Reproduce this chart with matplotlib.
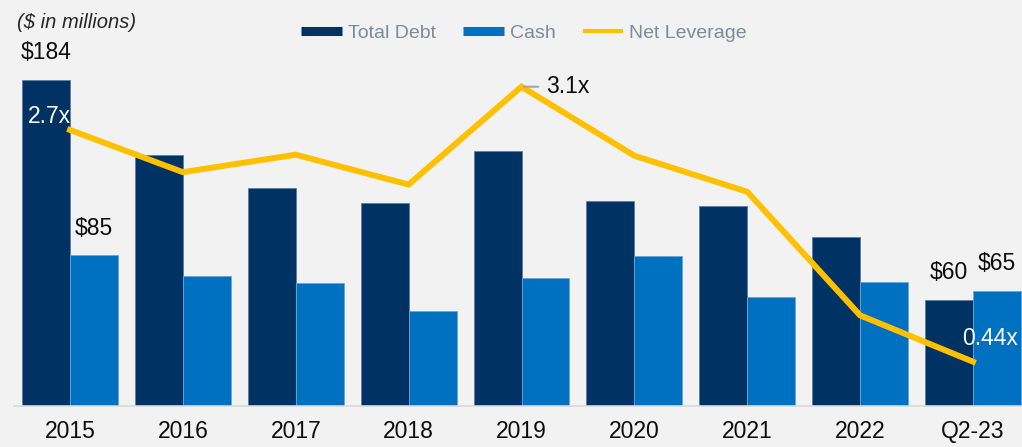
import matplotlib
matplotlib.use("Agg")
import matplotlib.pyplot as plt
from matplotlib.lines import Line2D
import numpy as np

plt.rcParams['font.family'] = ['Liberation Sans', 'DejaVu Sans']

categories = ["2015", "2016", "2017", "2018", "2019", "2020", "2021", "2022", "Q2-23"]
total_debt = [184, 141.3, 122.7, 114.3, 143.9, 115.6, 112.6, 95.1, 60]
cash = [85, 73.1, 69.2, 53.7, 72.2, 84.7, 61.6, 69.7, 65]
net_leverage = [2.68, 2.27, 2.44, 2.15, 3.1, 2.43, 2.08, 0.88, 0.43]

debt_labels = {0: "$184", 8: "$60"}
cash_labels = {0: "$85", 8: "$65"}
lev_labels = {0: "2.7x", 4: "3.1x", 8: "0.44x"}

NAVY = "#003263"
BLUE = "#0070C0"
GOLD = "#FFC000"
BG = "#F2F2F2"

W, H = 1022, 447
fig = plt.figure(figsize=(W / 100, H / 100), dpi=100, facecolor=BG)

left_px, right_px = 13.6, 1029.4
bottom_px, top_px = 406, 47
ax = fig.add_axes([left_px / W, (H - bottom_px) / H, (right_px - left_px) / W,
                   (bottom_px - top_px) / H])
ax.set_facecolor(BG)

x = np.arange(len(categories))
bw = 0.425
ax.bar(x - bw / 2, total_debt, width=bw, color=NAVY, edgecolor="#5b7fa6", linewidth=0.6, zorder=2)
ax.bar(x + bw / 2, cash, width=bw, color=BLUE, edgecolor="#6aa5d6", linewidth=0.6, zorder=2)

ax.set_xlim(-0.5, len(categories) - 0.5)
ax.set_ylim(0, (bottom_px - top_px) / 1.774)
ax.set_xticks(x)
ax.set_xticklabels(categories, fontsize=16.5, color="#0d0d0d")
ax.tick_params(axis="x", length=0, pad=10)
ax.set_yticks([])
for s in ["top", "right", "left"]:
    ax.spines[s].set_visible(False)
ax.spines["bottom"].set_color("#D9D9D9")
ax.spines["bottom"].set_linewidth(1.2)

for i, t in debt_labels.items():
    ax.annotate(t, (x[i] - bw / 2, total_debt[i]), xytext=(0, 11), textcoords="offset points",
                ha="center", va="bottom", fontsize=16.5, color="#0d0d0d")
for i, t in cash_labels.items():
    ax.annotate(t, (x[i] + bw / 2, cash[i]), xytext=(0, 11), textcoords="offset points",
                ha="center", va="bottom", fontsize=16.5, color="#0d0d0d")

ax2 = ax.twinx()
ax2.set_ylim(0, (bottom_px - top_px) / 103.0)
ax2.axis("off")
ax2.plot(x, net_leverage, color=GOLD, linewidth=4.3, solid_joinstyle="miter", zorder=3)

ax2.annotate(lev_labels[0], (x[0], net_leverage[0]), xytext=(1, 10), textcoords="offset points",
             ha="right", va="center", fontsize=16.5, color="white")
ax2.annotate(lev_labels[8], (x[8], net_leverage[8]), xytext=(12, 17), textcoords="offset points",
             ha="center", va="center", fontsize=16.5, color="white")
ax2.annotate("", (x[4], net_leverage[4]), xytext=(12, 0), textcoords="offset points",
             arrowprops=dict(arrowstyle="-", color="#A6A6A6", lw=1.5, shrinkA=0, shrinkB=1.5))
ax2.annotate(lev_labels[4], (x[4], net_leverage[4]), xytext=(18, 0), textcoords="offset points",
             ha="left", va="center", fontsize=16.5, color="#0d0d0d")

fig.text(17 / W, 1 - 22 / H, "($ in millions)", fontsize=14.5, style="italic",
         color="#262626", ha="left", va="center")

handles = [Line2D([], [], color=NAVY, lw=6.5, solid_capstyle="butt"),
           Line2D([], [], color=BLUE, lw=6.5, solid_capstyle="butt"),
           Line2D([], [], color=GOLD, lw=3, solid_capstyle="butt")]
leg = fig.legend(handles, ["Total Debt", "Cash", "Net Leverage"], ncol=3,
                 loc="center", bbox_to_anchor=(524 / W, 1 - 33 / H), frameon=False,
                 fontsize=14, handlelength=2.1, handletextpad=0.3, columnspacing=1.4,
                 labelcolor="#7F8B96")

fig.savefig("out.png", dpi=100, facecolor=BG)
